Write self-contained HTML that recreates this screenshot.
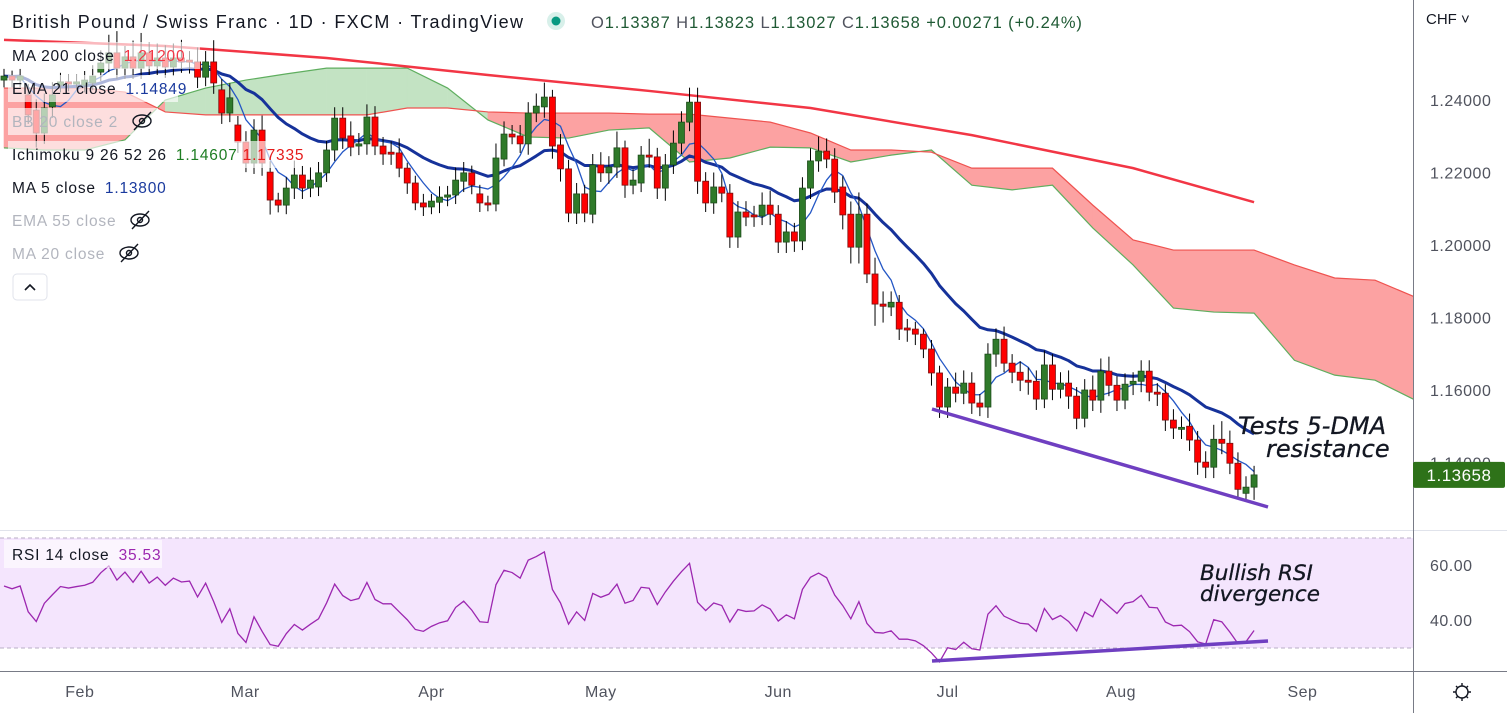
<!DOCTYPE html>
<html><head><meta charset="utf-8"><style>
html,body{margin:0;padding:0;background:#fff;width:1507px;height:713px;overflow:hidden}
svg{display:block;font-family:"Liberation Sans",sans-serif}
</style></head><body>
<svg id="c" width="1507" height="713" viewBox="0 0 1507 713">
<rect x="0" y="538" width="1413" height="110" fill="#f4e5fd"/>
<line x1="0" y1="538" x2="1413" y2="538" stroke="#b9aec6" stroke-dasharray="4,3"/>
<line x1="0" y1="648" x2="1413" y2="648" stroke="#b9aec6" stroke-dasharray="4,3"/>
<g id="cloud"></g>
<g id="lines"></g>
<g id="candles"></g>
<g id="rsi"></g>
<line x1="932" y1="409" x2="1268" y2="507" stroke="#6f3fc1" stroke-width="3.5"/>
<line x1="932" y1="661" x2="1268" y2="641" stroke="#6f3fc1" stroke-width="3.5"/>
<g font-style="italic" fill="#131722" font-family="DejaVu Sans, sans-serif" stroke="#131722" stroke-width="0.3">
<text x="1238" y="434" font-size="24">Tests 5-DMA</text>
<text x="1266" y="457" font-size="24">resistance</text>
<text x="1200" y="580" font-size="21.5">Bullish RSI</text>
<text x="1200" y="601" font-size="21.5">divergence</text>
</g>
<!-- axes -->
<rect x="1414" y="0" width="93" height="713" fill="#fff"/>
<rect x="0" y="672" width="1413" height="41" fill="#fff"/>
<line x1="0" y1="530.5" x2="1507" y2="530.5" stroke="#e0e3eb"/>
<line x1="1413.5" y1="0" x2="1413.5" y2="713" stroke="#787b86"/>
<line x1="0" y1="671.5" x2="1507" y2="671.5" stroke="#787b86"/>
<g id="axes" font-size="16" fill="#50535e" letter-spacing="0.5"></g>
<text x="1426" y="24" font-size="15" fill="#131722">CHF ˅</text>
<g stroke="#131722" fill="none" stroke-width="1.4"><circle cx="1462" cy="692" r="6"/><path d="M1462 683v3M1462 698v3M1453 692h3M1468 692h3M1456 686l2 2M1466 696l2 2M1456 698l2-2M1466 688l2-2"/></g>
<!-- legend backdrop -->
<g fill="#fff" opacity="0.65">
<rect x="8" y="42" width="192" height="27"/><rect x="8" y="75" width="170" height="27"/><rect x="8" y="108" width="150" height="27"/><rect x="8" y="141" width="290" height="27"/>
</g>
<!-- header -->
<text x="12" y="28" font-size="18" letter-spacing="1.35" fill="#131722">British Pound / Swiss Franc · 1D · FXCM · TradingView</text>
<circle cx="556" cy="21" r="9" fill="#d8f0ea"/>
<circle cx="556" cy="21" r="4.5" fill="#089981"/>
<text x="591" y="28" font-size="16.5" letter-spacing="0.9" fill="#1f5a34"><tspan fill="#50535e">O</tspan>1.13387 <tspan fill="#50535e">H</tspan>1.13823 <tspan fill="#50535e">L</tspan>1.13027 <tspan fill="#50535e">C</tspan>1.13658 +0.00271 (+0.24%)</text>
<g font-size="15.5" letter-spacing="0.8">
<text x="12" y="61" fill="#131722">MA 200 close <tspan fill="#f23645" dx="4">1.21200</tspan></text>
<text x="12" y="94" fill="#131722">EMA 21 close <tspan fill="#1a3a9e" dx="4">1.14849</tspan></text>
<text x="12" y="127" fill="#b2b5be">BB 20 close 2</text>
<text x="12" y="160" fill="#131722">Ichimoku 9 26 52 26 <tspan fill="#1e7d22" dx="4">1.14607</tspan> <tspan fill="#e51b1b">1.17335</tspan></text>
<text x="12" y="193" fill="#131722">MA 5 close <tspan fill="#1a3a9e" dx="4">1.13800</tspan></text>
<text x="12" y="226" fill="#b2b5be">EMA 55 close</text>
<text x="12" y="259" fill="#b2b5be">MA 20 close</text>
</g>
<g stroke="#131722" fill="none" stroke-width="1.4"><ellipse cx="142" cy="121" rx="9" ry="6"/><circle cx="142" cy="121" r="2.5"/><line x1="134" y1="130" x2="151" y2="112"/></g>
<g stroke="#131722" fill="none" stroke-width="1.4"><ellipse cx="140" cy="220" rx="9" ry="6"/><circle cx="140" cy="220" r="2.5"/><line x1="132" y1="229" x2="149" y2="211"/></g>
<g stroke="#131722" fill="none" stroke-width="1.4"><ellipse cx="129" cy="253" rx="9" ry="6"/><circle cx="129" cy="253" r="2.5"/><line x1="121" y1="262" x2="138" y2="244"/></g>
<g><rect x="13" y="274" width="34" height="26" rx="4" fill="#fff" stroke="#e0e3eb"/><path d="M25 290l5-5 5 5" stroke="#131722" stroke-width="1.6" fill="none"/></g>
<g><rect x="4" y="540" width="158" height="28" fill="#fff" opacity="0.6"/><text x="12" y="560" font-size="15.5" letter-spacing="0.8" fill="#131722">RSI 14 close <tspan fill="#9c27b0" dx="4">35.53</tspan></text></g>
</svg>
<script>
const opens=[1.2455,1.2466,1.2455,1.2414,1.2372,1.2309,1.2381,1.2441,1.2450,1.2444,1.2441,1.2447,1.2477,1.2502,1.2530,1.2488,1.2519,1.2488,1.2530,1.2494,1.2516,1.2491,1.2516,1.2510,1.2505,1.2463,1.2505,1.2428,1.2364,1.2331,1.2284,1.2226,1.2317,1.2201,1.2124,1.2110,1.2157,1.2193,1.2157,1.2160,1.2199,1.2262,1.2350,1.2301,1.2273,1.2279,1.2353,1.2273,1.2256,1.2254,1.2212,1.2171,1.2116,1.2105,1.2118,1.2132,1.2138,1.2176,1.2199,1.2141,1.2116,1.2113,1.2237,1.2306,1.2301,1.2279,1.2364,1.2381,1.2408,1.2276,1.2210,1.2088,1.2141,1.2085,1.2221,1.2199,1.2215,1.2268,1.2165,1.2171,1.2248,1.2243,1.2157,1.2221,1.2281,1.2339,1.2394,1.2176,1.2116,1.2160,1.2143,1.2022,1.2091,1.2083,1.2080,1.2110,1.2085,1.2008,1.2036,1.2011,1.2157,1.2232,1.2259,1.2237,1.2160,1.2085,1.1994,1.2085,1.1920,1.1837,1.1829,1.1842,1.1771,1.1768,1.1754,1.1713,1.1647,1.1553,1.1608,1.1591,1.1619,1.1564,1.1553,1.1699,1.1740,1.1674,1.1649,1.1627,1.1624,1.1575,1.1669,1.1602,1.1619,1.1583,1.1522,1.1600,1.1572,1.1652,1.1613,1.1572,1.1616,1.1624,1.1652,1.1594,1.1591,1.1517,1.1495,1.1500,1.1462,1.1401,1.1387,1.1464,1.1453,1.1398,1.1315,1.1332];
const closes=[1.2466,1.2455,1.2466,1.2359,1.2309,1.2378,1.2414,1.2450,1.2444,1.2450,1.2455,1.2466,1.2502,1.2530,1.2488,1.2519,1.2488,1.2530,1.2494,1.2516,1.2491,1.2516,1.2505,1.2508,1.2463,1.2505,1.2447,1.2364,1.2406,1.2284,1.2226,1.2317,1.2226,1.2124,1.2110,1.2157,1.2193,1.2157,1.2179,1.2199,1.2262,1.2350,1.2295,1.2270,1.2279,1.2353,1.2273,1.2251,1.2251,1.2212,1.2171,1.2116,1.2105,1.2121,1.2132,1.2138,1.2179,1.2199,1.2165,1.2116,1.2113,1.2240,1.2306,1.2298,1.2279,1.2364,1.2383,1.2408,1.2273,1.2210,1.2088,1.2141,1.2088,1.2221,1.2199,1.2215,1.2268,1.2165,1.2179,1.2248,1.2243,1.2157,1.2221,1.2281,1.2339,1.2394,1.2176,1.2116,1.2160,1.2143,1.2022,1.2091,1.2077,1.2080,1.2110,1.2085,1.2008,1.2036,1.2011,1.2157,1.2232,1.2259,1.2237,1.2146,1.2083,1.1994,1.2085,1.1920,1.1837,1.1831,1.1842,1.1768,1.1768,1.1754,1.1713,1.1647,1.1553,1.1608,1.1591,1.1619,1.1564,1.1553,1.1699,1.1740,1.1674,1.1649,1.1627,1.1622,1.1575,1.1669,1.1602,1.1619,1.1583,1.1522,1.1600,1.1572,1.1652,1.1613,1.1572,1.1616,1.1624,1.1652,1.1594,1.1591,1.1517,1.1495,1.1497,1.1462,1.1401,1.1387,1.1464,1.1453,1.1398,1.1326,1.1332,1.13658];
const upperWickPips=[20,15,20,30,30,40,35,25,20,20,25,30,35,50,60,30,45,55,30,40,35,40,50,25,40,30,60,30,40,25,30,30,40,30,20,30,40,25,35,30,25,30,30,40,30,35,30,25,30,40,15,20,25,20,30,25,35,30,20,25,20,40,35,25,30,30,35,40,20,30,25,30,25,30,35,30,45,20,30,25,45,25,30,35,30,40,40,25,40,35,25,30,30,25,35,40,25,30,25,30,35,40,35,30,30,35,60,30,45,35,30,20,25,20,15,25,20,25,40,35,30,25,30,30,35,25,30,35,30,40,30,30,35,25,30,40,35,40,25,30,25,30,30,25,25,30,30,35,25,30,40,50,35,30,30,25];
const lowerWickPips=[20,20,20,25,40,30,30,20,20,15,20,20,25,25,30,30,30,30,25,25,30,25,30,35,30,25,30,30,25,30,25,30,35,40,20,25,30,30,25,25,25,30,30,25,25,30,25,30,30,25,30,20,25,20,30,25,25,30,25,25,20,20,20,20,25,30,25,30,35,35,25,30,25,25,25,30,30,35,25,25,30,30,35,25,30,25,35,25,30,25,30,30,25,30,25,30,30,30,30,25,30,30,25,30,40,45,45,25,60,45,25,30,35,30,25,35,30,30,25,30,30,25,30,35,25,30,30,35,30,25,30,25,35,30,25,30,35,30,30,25,30,30,25,35,30,30,30,30,35,30,30,30,30,25,20,35];
const ma200Bars=[0,20,40,60,80,100,120,140,155];
const ma200Values=[1.2566,1.2549,1.2516,1.2469,1.2425,1.2378,1.2303,1.2212,1.2118];
const cloudBars=[0,5,10,15,20,25,30,35,40,45,50,55,60,65,70,75,80,85,90,95,100,105,110,115,120,125,130,135,140,145,150,155,160,165,170,175];
const spanA=[1.2268,1.2262,1.2262,1.2290,1.2400,1.2433,1.2455,1.2472,1.2488,1.2488,1.2488,1.2433,1.2345,1.2298,1.2295,1.2317,1.2323,1.2229,1.2240,1.2270,1.2268,1.2229,1.2248,1.2262,1.2165,1.2152,1.2165,1.2047,1.1945,1.1826,1.1815,1.1812,1.1682,1.1641,1.1627,1.1572];
const spanB=[1.2433,1.2433,1.2433,1.2422,1.2367,1.2359,1.2359,1.2359,1.2359,1.2359,1.2378,1.2378,1.2367,1.2364,1.2364,1.2364,1.2361,1.2361,1.2350,1.2339,1.2309,1.2262,1.2262,1.2256,1.2212,1.2212,1.2212,1.2110,1.2014,1.1986,1.1986,1.1986,1.1945,1.1909,1.1903,1.1856];
const priceTicks=[1.24,1.22,1.20,1.18,1.16,1.14];
const rsiTicks=[60,40];
const monthLabels=['Feb','Mar','Apr','May','Jun','Jul','Aug','Sep'];
const monthBars=[9.4,29.9,53,74,96,117,138.5,161];
const rsiSeedGain=0.0022;
const rsiSeedLoss=0.0020;

const NS='http://www.w3.org/2000/svg';
const xB=i=>4+i*8.065;
const yP=p=>100+(1.24-p)/0.02*72.5;
const yR=v=>565+(60-v)*2.75;
function mk(tag,attrs,parent){const e=document.createElementNS(NS,tag);for(const k in attrs)e.setAttribute(k,attrs[k]);parent.appendChild(e);return e;}
const G=id=>document.getElementById(id);

// cloud
const cg=G('cloud');
for(let k=0;k<cloudBars.length-1;k++){
  const x1=xB(cloudBars[k]),x2=xB(cloudBars[k+1]);
  const a1=yP(spanA[k]),a2=yP(spanA[k+1]),b1=yP(spanB[k]),b2=yP(spanB[k+1]);
  const bull=(spanA[k]+spanA[k+1])>(spanB[k]+spanB[k+1]);
  const q=mk('polygon',{points:`${x1},${a1} ${x2},${a2} ${x2},${b2} ${x1},${b1}`,fill:bull?'#c3e3c3':'#fca2a2',stroke:bull?'#c3e3c3':'#fca2a2','stroke-width':0.6},cg);
  
  
}
const pa=mk('polyline',{points:cloudBars.map((b,k)=>xB(b)+','+yP(spanA[k])).join(' '),fill:'none',stroke:'#5fae5f','stroke-width':1.2},cg);


const pb=mk('polyline',{points:cloudBars.map((b,k)=>xB(b)+','+yP(spanB[k])).join(' '),fill:'none',stroke:'#ef5350','stroke-width':1.2},cg);



// lines
const lg=G('lines');
const m2=mk('polyline',{points:ma200Bars.map((b,k)=>xB(b)+','+yP(ma200Values[k])).join(' '),fill:'none',stroke:'#f23645','stroke-width':2.5},lg);


const ema=[];const kk=2/22;
closes.forEach((c,i)=>ema.push(i?c*kk+ema[i-1]*(1-kk):c));
const ma5=closes.map((c,i)=>{const s=closes.slice(Math.max(0,i-4),i+1);return s.reduce((a,b)=>a+b,0)/s.length;});
const e21=mk('polyline',{points:ema.map((v,i)=>xB(i)+','+yP(v)).join(' '),fill:'none',stroke:'#16329a','stroke-width':3,'stroke-linejoin':'round'},lg);


const m5=mk('polyline',{points:ma5.map((v,i)=>xB(i)+','+yP(v)).join(' '),fill:'none',stroke:'#2457c5','stroke-width':1.3},lg);



// candles
const kg=G('candles');
closes.forEach((c,i)=>{
  const o=opens[i],x=xB(i);
  const hi=Math.max(o,c)+upperWickPips[i]/10000,lo=Math.min(o,c)-lowerWickPips[i]/10000;
  const up=c>=o;
  const w=mk('line',{x1:x,x2:x,y1:yP(hi),y2:yP(lo),stroke:'#000','stroke-width':1},kg);
  
  
  const top=yP(Math.max(o,c)),h=Math.max(2,yP(Math.min(o,c))-top);
  const b=mk('rect',{x:x-3,y:top,width:6,height:h,fill:up?'#2f7a2a':'#ff0000',stroke:up?'#1d4d1a':'#7a1010','stroke-width':0.8},kg);
  
  
});

// RSI (Wilder, seeded)
const rg=G('rsi');
const rsi=[];let ag=rsiSeedGain,al=rsiSeedLoss;
rsi.push([0,100-100/(1+ag/al)]);
for(let i=1;i<closes.length;i++){
  const d=closes[i]-closes[i-1],g=Math.max(d,0),l=Math.max(-d,0);
  ag=(ag*13+g)/14;al=(al*13+l)/14;
  rsi.push([i,al===0?100:100-100/(1+ag/al)]);
}
const rl=mk('polyline',{points:rsi.map(([i,v])=>xB(i)+','+yR(v)).join(' '),fill:'none',stroke:'#9c27b0','stroke-width':1.3},rg);



// axes
const ax=G('axes');
priceTicks.forEach(p=>{const t=mk('text',{x:1430,y:yP(p)+6},ax);t.textContent=p.toFixed(5);

});
rsiTicks.forEach(v=>{const t=mk('text',{x:1430,y:yR(v)+6},ax);t.textContent=v.toFixed(2);

});
monthLabels.forEach((m,k)=>{const t=mk('text',{x:xB(monthBars[k]),y:697,'text-anchor':'middle'},ax);t.textContent=m;

});
const last=closes[closes.length-1],ly=yP(last);
const tag=mk('rect',{x:1413,y:ly-13,width:92,height:26,rx:2,fill:'#2e7219'},ax);


const tt=mk('text',{x:1459,y:ly+6,'text-anchor':'middle',fill:'#fff','font-size':17},ax);tt.textContent=last.toFixed(5);


</script>
</body></html>
